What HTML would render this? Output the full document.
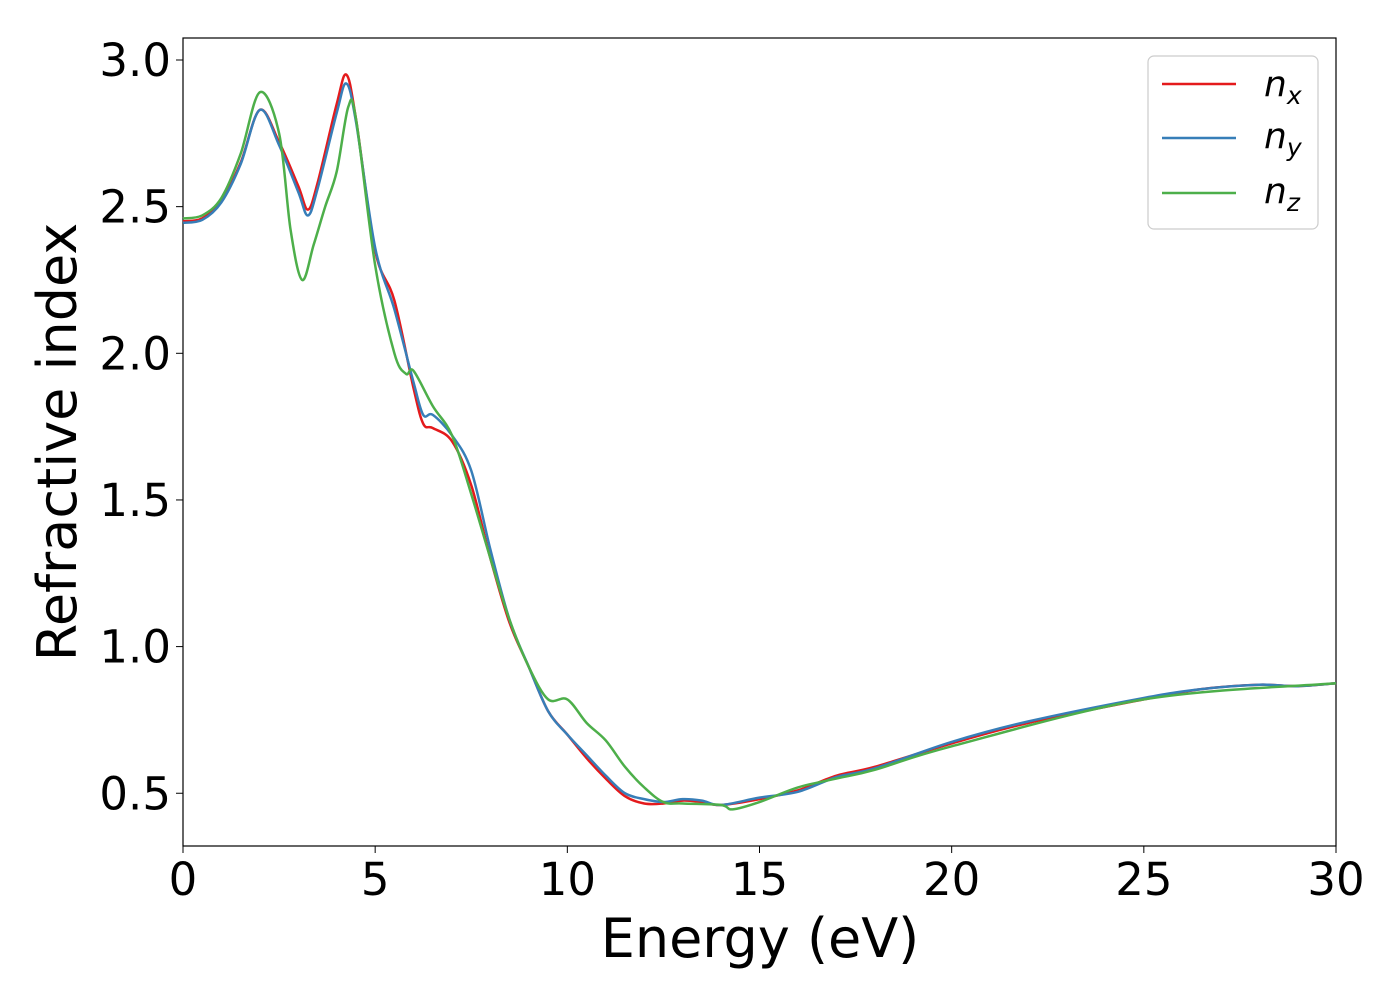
<!DOCTYPE html>
<html><head><meta charset="utf-8"><style>
body{margin:0;background:#fff}
svg{display:block;font-family:"DejaVu Sans","Liberation Sans",sans-serif}
</style></head><body>
<svg id="chart" width="1400" height="1000">
<rect x="183" y="38" width="1153" height="808" fill="#fff" stroke="#000" stroke-width="1.2"/>
<g id="xt"></g>
<g id="yt"></g>
<g id="lines"></g>
<text x="760" y="957" font-size="54" text-anchor="middle">Energy (eV)</text>
<text transform="translate(76,442) rotate(-90)" font-size="54" text-anchor="middle">Refractive index</text>
<g>
<rect x="1148" y="56" width="170" height="173" rx="6" fill="#fff" stroke="#ccc" stroke-width="1.2"/>
<g><line x1="1162" y1="84" x2="1236" y2="84" stroke="#e41a1c" stroke-width="2.5"/><text x="1264" y="96" font-size="36" font-style="italic">n<tspan font-size="25" dy="8">x</tspan></text></g>
<g><line x1="1162" y1="138" x2="1236" y2="138" stroke="#377eb8" stroke-width="2.5"/><text x="1264" y="148" font-size="36" font-style="italic">n<tspan font-size="25" dy="8">y</tspan></text></g>
<g><line x1="1162" y1="193" x2="1236" y2="193" stroke="#4daf4a" stroke-width="2.5"/><text x="1264" y="203" font-size="36" font-style="italic">n<tspan font-size="25" dy="8">z</tspan></text></g>
</g>
</svg>
<script>
const xTicks=[0,5,10,15,20,25,30];
const yTicks=[0.5,1.0,1.5,2.0,2.5,3.0];
const nxE=[0,0.5,1,1.5,2,2.5,3,3.25,3.5,4,4.25,4.5,5,5.5,6,6.25,6.5,7,7.5,8,8.5,9,9.5,10,10.5,11,11.5,12,12.5,13,13.5,14,15,16,17,18,20,22,25,26.5,28,29,30];
const nxV=[2.45,2.46,2.52,2.65,2.83,2.72,2.57,2.49,2.58,2.85,2.95,2.8,2.35,2.18,1.88,1.76,1.745,1.7,1.55,1.3,1.08,0.93,0.78,0.7,0.62,0.55,0.49,0.465,0.465,0.475,0.47,0.46,0.48,0.51,0.56,0.59,0.67,0.74,0.82,0.855,0.87,0.865,0.875];
const nyE=[0,0.5,1,1.5,2,2.5,3,3.25,3.5,4,4.25,4.5,5,5.5,6,6.25,6.5,7,7.5,8,8.5,9,9.5,10,10.5,11,11.5,12,12.5,13,13.5,14,15,16,17,18,20,22,25,26.5,28,29,30];
const nyV=[2.445,2.455,2.515,2.645,2.83,2.71,2.55,2.47,2.56,2.82,2.92,2.79,2.36,2.15,1.9,1.79,1.79,1.72,1.6,1.33,1.09,0.93,0.78,0.7,0.63,0.56,0.5,0.48,0.47,0.48,0.475,0.46,0.485,0.505,0.555,0.585,0.675,0.745,0.825,0.855,0.87,0.865,0.875];
const nzE=[0,0.5,1,1.5,2,2.5,2.8,3.1,3.4,3.7,4,4.3,4.5,5,5.5,5.8,6,6.5,7,7.5,8,8.5,9,9.5,10,10.5,11,11.5,12,12.5,13,14,14.3,15,16,17,18,20,25,30];
const nzV=[2.46,2.47,2.53,2.68,2.89,2.75,2.42,2.25,2.37,2.5,2.62,2.84,2.8,2.3,2.0,1.93,1.94,1.82,1.72,1.52,1.3,1.09,0.93,0.82,0.82,0.74,0.68,0.59,0.52,0.47,0.465,0.46,0.445,0.47,0.52,0.55,0.58,0.66,0.82,0.875];
const X=e=>183+e*(1153/30);
const Y=v=>60+(3.0-v)*293.3;
const NS="http://www.w3.org/2000/svg";
const xt=document.getElementById('xt'),yt=document.getElementById('yt'),lines=document.getElementById('lines');
xTicks.forEach(t=>{
 const l=document.createElementNS(NS,'line');l.setAttribute('x1',X(t));l.setAttribute('x2',X(t));l.setAttribute('y1',846);l.setAttribute('y2',853);l.setAttribute('stroke','#000');
 
 
 xt.appendChild(l);
 const s=document.createElementNS(NS,'text');s.setAttribute('x',X(t));s.setAttribute('y',895);s.setAttribute('font-size','45');s.setAttribute('text-anchor','middle');s.textContent=t;
 
 
 xt.appendChild(s);
});
yTicks.forEach(t=>{
 const l=document.createElementNS(NS,'line');l.setAttribute('x1',176);l.setAttribute('x2',183);l.setAttribute('y1',Y(t));l.setAttribute('y2',Y(t));l.setAttribute('stroke','#000');
 
 
 yt.appendChild(l);
 const s=document.createElementNS(NS,'text');s.setAttribute('x',171);s.setAttribute('y',Y(t)+16);s.setAttribute('font-size','45');s.setAttribute('text-anchor','end');s.textContent=t.toFixed(1);
 
 
 yt.appendChild(s);
});
function path(E,V){
 const p=E.map((e,i)=>[X(e),Y(V[i])]);
 let d='M'+p[0][0]+','+p[0][1];
 for(let i=0;i<p.length-1;i++){
  const p0=p[Math.max(0,i-1)],p1=p[i],p2=p[i+1],p3=p[Math.min(p.length-1,i+2)];
  const c1=[p1[0]+(p2[0]-p0[0])/6,p1[1]+(p2[1]-p0[1])/6],c2=[p2[0]-(p3[0]-p1[0])/6,p2[1]-(p3[1]-p1[1])/6];
  d+=`C${c1[0]},${c1[1]} ${c2[0]},${c2[1]} ${p2[0]},${p2[1]}`;
 }
 return d;
}
[[nxE,nxV,'#e41a1c','series-nx'],[nyE,nyV,'#377eb8','series-ny'],[nzE,nzV,'#4daf4a','series-nz']].forEach(s=>{
 const el=document.createElementNS(NS,'path');el.setAttribute('d',path(s[0],s[1]));el.setAttribute('fill','none');el.setAttribute('stroke',s[2]);el.setAttribute('stroke-width','2.5');
 
 
 lines.appendChild(el);
});
</script>
</body></html>
